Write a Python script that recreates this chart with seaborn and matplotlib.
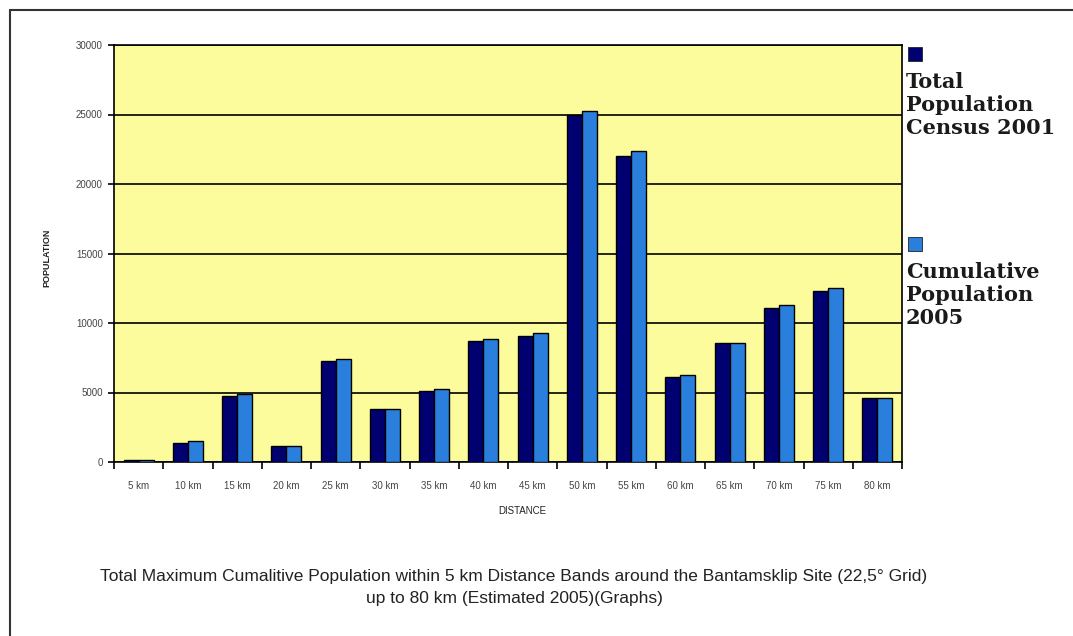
import matplotlib
matplotlib.use("Agg")
import matplotlib.pyplot as plt
from matplotlib.lines import Line2D
from matplotlib.patches import Rectangle
from matplotlib.ticker import FixedLocator
import pandas as pd
import seaborn as sns

# Distance bands and population per band
distances = ["5 km", "10 km", "15 km", "20 km", "25 km", "30 km", "35 km", "40 km",
             "45 km", "50 km", "55 km", "60 km", "65 km", "70 km", "75 km", "80 km"]
census_2001 = [150, 1400, 4750, 1150, 7250, 3800, 5100, 8700,
               9050, 24950, 22000, 6150, 8550, 11050, 12300, 4600]
cumulative_2005 = [150, 1500, 4880, 1150, 7380, 3800, 5240, 8830,
                   9300, 25280, 22370, 6290, 8550, 11300, 12500, 4600]
series_names = ["Total\nPopulation\nCensus 2001", "Cumulative\nPopulation\n2005"]
series_colors = ["#000070", "#2a7fdc"]
y_ticks = [0, 5000, 10000, 15000, 20000, 25000, 30000]

df = pd.DataFrame({
    "distance": distances * 2,
    "population": census_2001 + cumulative_2005,
    "series": [series_names[0]] * len(distances) + [series_names[1]] * len(distances),
})

sns.set_style("white")
plt.rcParams["font.family"] = ["Liberation Sans", "DejaVu Sans"]

fig = plt.figure(figsize=(10.73, 6.36), dpi=100)
W, H = 1073, 636
ax = fig.add_axes([114 / W, 1 - 462 / H, (902 - 114) / W, (462 - 45) / H])
ax.set_facecolor("#fdfc9c")

sns.barplot(data=df, x="distance", y="population", hue="series",
            hue_order=series_names, order=distances,
            palette=dict(zip(series_names, series_colors)),
            width=0.61, saturation=1, edgecolor="black", linewidth=1.0,
            legend=False, ax=ax, zorder=3)

ax.set_ylim(0, 30000)
ax.set_xlim(-0.5, len(distances) - 0.5)
ax.set_yticks(y_ticks)
ax.set_yticklabels([str(v) for v in y_ticks])
ax.yaxis.grid(True, color="black", linewidth=1.2, zorder=1)
ax.set_axisbelow(True)

# category labels centred, tick marks between categories
ax.set_xticks(range(len(distances)))
ax.set_xticklabels(distances)
ax.xaxis.set_minor_locator(FixedLocator([i - 0.5 for i in range(len(distances) + 1)]))
ax.tick_params(axis="x", which="major", length=0, pad=14, labelsize=7, labelcolor="#444444")
ax.tick_params(axis="x", which="minor", length=5, width=1.2, color="black", direction="out", bottom=True)
ax.tick_params(axis="y", which="major", length=4, width=1.2, color="black", direction="out",
               left=True, pad=4, labelsize=7, labelcolor="#444444")

for side in ["left", "bottom", "top", "right"]:
    ax.spines[side].set_visible(True)
    ax.spines[side].set_color("black")
    ax.spines[side].set_linewidth(1.2)

ax.set_xlabel("")
ax.set_ylabel("")
fig.text(47 / W, 1 - 258 / H, "POPULATION", rotation=90, ha="center", va="center",
         fontsize=6.5, fontweight="bold", color="#222222")
fig.text(522 / W, 1 - 511 / H, "DISTANCE", ha="center", va="center",
         fontsize=7, color="#222222")

# caption
fig.text(514 / W, 1 - 576 / H,
         "Total Maximum Cumalitive Population within 5 km Distance Bands around the Bantamsklip Site (22,5\u00b0 Grid)",
         ha="center", va="center", fontsize=12.5, color="#222222")
fig.text(514 / W, 1 - 598 / H, "up to 80 km (Estimated 2005)(Graphs)",
         ha="center", va="center", fontsize=12.5, color="#222222")

# legend: colour square above each series name
legend_rows = [(47, 72), (237, 262)]
for (sq_top, txt_top), name, col in zip(legend_rows, series_names, series_colors):
    fig.add_artist(Rectangle((908 / W, 1 - (sq_top + 14) / H), 14 / W, 14 / H,
                             transform=fig.transFigure, facecolor=col,
                             edgecolor="#222222", linewidth=0.6))
    fig.text(906 / W, 1 - txt_top / H, name, ha="left", va="top",
             fontsize=15, fontweight="bold", family=["DejaVu Serif"],
             color="#1a1a1a", linespacing=1.2)

# outer frame (top and left edges)
fig.add_artist(Line2D([10 / W, 1.0], [1 - 10 / H, 1 - 10 / H], transform=fig.transFigure,
                      color="#333333", linewidth=1.5))
fig.add_artist(Line2D([10 / W, 10 / W], [0.0, 1 - 10 / H], transform=fig.transFigure,
                      color="#333333", linewidth=1.5))

fig.savefig("out.png", dpi=100, facecolor="white")
